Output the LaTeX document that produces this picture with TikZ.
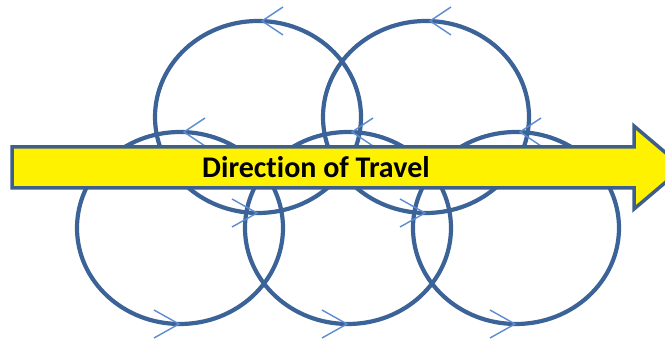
\documentclass[tikz,border=0pt]{standalone}
\usepackage{fontspec}
\setmainfont{Carlito}[Ligatures=NoCommon]
\usetikzlibrary{shapes, arrows, positioning, calc}
\definecolor{ringblue}{RGB}{59,99,152}
\definecolor{barbblue}{RGB}{91,139,208}
\definecolor{edgeblue}{RGB}{62,95,140}

\begin{document}
\begin{tikzpicture}[x=1pt, y=1pt,
  ring/.style={draw=ringblue, line width=4.2pt, ellipse, minimum width=206pt,
    minimum height=192pt, inner sep=0pt, outer sep=0pt},
  barb/.style={barbblue, line width=1.4pt}]
  \useasboundingbox (0,0) rectangle (665,339);
  \clip (0,0) rectangle (665,339);

  % Upper row of loops
  \node[ring] (u1) at (258,222) {};
  \node[ring] (u2) at (426,222) {};

  % Lower row of loops
  \node[ring] (l1) at (180,111) {};
  \node[ring] (l2) at (348,111) {};
  \node[ring] (l3) at (516,111) {};

  % Direction marks on each loop
  \foreach \c in {u1,u2,l1,l2,l3} {
    \draw[barb] ([shift={(25,14)}]\c.north) -- ([shift={(4,0)}]\c.north) -- ([shift={(25,-14)}]\c.north);
    \draw[barb] ([shift={(-26,14)}]\c.south) -- ([shift={(-1,0)}]\c.south) -- ([shift={(-26,-14)}]\c.south);
  }

  % Travel arrow
  \coordinate (tip) at (683,171.5);
  \draw[edgeblue, line width=3.5pt, fill=yellow, line join=miter]
    (12,192) -- (634,192) -- (634,213) -- (tip) -- (634,130) -- (634,151) -- (12,151) -- cycle;

  % Label
  \node[anchor=base, font=\fontsize{30}{36}\selectfont\bfseries] (travel) at (316,161) {Direction of Travel};
\end{tikzpicture}
\end{document}
